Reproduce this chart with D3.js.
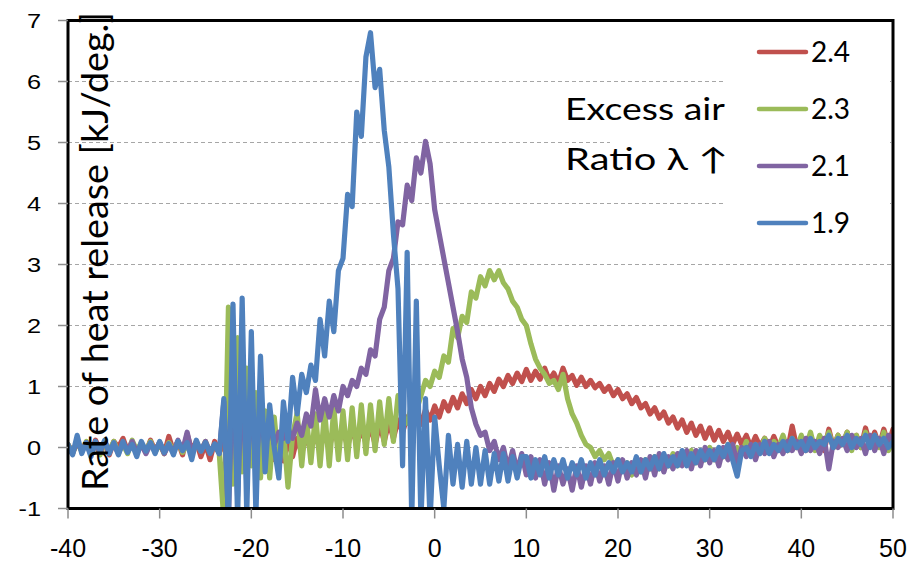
<!DOCTYPE html>
<html>
<head>
<meta charset="utf-8">
<script src="https://cdn.jsdelivr.net/npm/d3@7"></script>
<style>
  html, body { margin: 0; padding: 0; background: #fff; }
  svg { display: block; }
</style>
</head>
<body>
<svg id="chart" width="916" height="562"></svg>
<script>
// ---- data ----
const angleStart = -40, angleEnd = 50, angleStep = 0.5;
const xTicks = [-40, -30, -20, -10, 0, 10, 20, 30, 40, 50];
const yTicks = [-1, 0, 1, 2, 3, 4, 5, 6, 7];
const seriesNames = ["2.4", "2.3", "2.1", "1.9"];
const seriesColors = ["#C0504D", "#9BBB59", "#8064A2", "#4F81BD"];

const red24 = [
  0.05,-0.08,0.1,-0.05,0.08,-0.1,0.12,-0.04,0.06,-0.12,0.1,0.0,0.15,-0.06,0.08,-0.1,0.05,-0.08,0.12,-0.05,
  0.08,-0.1,0.18,-0.06,0.1,-0.12,0.22,-0.05,0.1,-0.15,0.06,-0.2,0.1,-0.08,0.05,-0.15,0.1,-0.2,0.15,-0.1,
  0.05,-0.15,0.1,-0.2,0.15,-0.2,0.1,-0.22,0.12,-0.15,0.15,-0.1,0.2,-0.05,0.25,-0.05,0.3,0.0,0.3,0.05,
  0.3,0.02,0.32,0.05,0.3,0.08,0.35,0.05,0.38,0.1,0.42,0.15,0.45,0.25,0.5,0.3,0.55,0.38,0.62,0.45,
  0.68,0.5,0.75,0.6,0.82,0.65,0.88,0.72,0.95,0.8,1.0,0.85,1.05,0.92,1.12,1.0,1.18,1.05,1.22,1.08,
  1.28,1.1,1.25,1.12,1.3,1.1,1.22,1.05,1.3,1.1,1.18,1.02,1.15,1.0,1.1,0.98,1.05,0.92,1.0,0.85,
  0.95,0.8,0.88,0.72,0.82,0.65,0.72,0.55,0.65,0.48,0.58,0.4,0.5,0.32,0.45,0.25,0.4,0.2,0.35,0.15,
  0.32,0.12,0.28,0.1,0.25,0.05,0.22,0.05,0.2,0.0,0.18,0.02,0.15,-0.02,0.18,0.0,0.12,-0.05,0.35,0.0,
  0.15,-0.05,0.2,0.0,0.15,-0.05,0.3,0.0,0.2,0.05,0.25,-0.02,0.2,0.0,0.32,0.05,0.25,0.02,0.3,0.05,
  0.3
];
const green23 = [
  0.05,-0.1,0.08,-0.06,0.1,-0.05,0.06,-0.12,0.08,-0.04,0.1,-0.08,0.05,-0.1,0.12,-0.05,0.08,-0.06,0.1,-0.08,
  0.06,-0.1,0.08,-0.05,0.1,-0.08,0.05,-0.1,0.08,-0.06,0.1,-0.08,0.05,-0.1,-1.2,2.3,-0.6,1.8,-0.4,1.3,
  -0.3,0.9,-0.5,0.6,-0.5,0.5,-0.3,0.3,-0.65,0.2,0.57,-0.3,0.5,-0.25,0.55,-0.3,0.6,-0.3,0.65,-0.2,
  0.6,-0.2,0.65,-0.15,0.7,-0.1,0.7,-0.05,0.75,0.05,0.8,0.1,0.85,0.5,0.4,0.7,0.6,0.85,1.1,1.0,
  1.25,1.15,1.5,1.4,1.95,1.8,2.15,2.05,2.55,2.45,2.8,2.65,2.9,2.75,2.9,2.7,2.6,2.4,2.3,2.1,
  2.0,1.7,1.45,1.3,1.2,1.05,1.1,0.95,1.2,0.8,0.55,0.4,0.2,0.05,0.0,-0.15,-0.05,-0.2,-0.1,-0.3,
  -0.2,-0.35,-0.25,-0.45,-0.25,-0.4,-0.2,-0.35,-0.15,-0.35,-0.2,-0.3,-0.1,-0.3,-0.15,-0.25,-0.05,-0.25,-0.1,-0.2,
  0.0,-0.2,-0.05,-0.15,0.05,-0.15,0.0,-0.1,0.1,-0.1,0.05,-0.05,0.15,-0.05,0.1,0.0,0.2,-0.05,0.15,0.0,
  0.2,0.0,0.25,-0.05,0.2,0.05,0.25,0.0,0.2,0.05,0.25,-0.05,0.2,0.0,0.25,0.05,0.2,0.0,0.25,-0.05,
  0.1
];
const purple21 = [
  0.0,-0.1,0.1,-0.05,0.08,-0.12,0.06,-0.08,0.1,-0.05,0.05,-0.1,0.08,-0.06,0.1,-0.08,0.05,-0.1,0.06,-0.05,
  0.08,-0.1,0.05,-0.08,0.12,-0.05,0.25,-0.1,0.08,-0.06,0.1,-0.08,0.05,-0.1,0.75,-1.2,1.5,-0.8,1.2,-0.6,
  0.9,-0.3,0.6,0.0,0.4,0.05,0.25,0.15,0.3,0.15,0.4,0.2,0.55,0.35,0.95,0.45,0.8,0.5,0.85,0.6,
  1.0,0.85,1.1,1.0,1.3,1.2,1.6,1.5,2.1,2.3,2.9,3.1,3.7,3.65,4.3,4.05,4.75,4.5,5.02,4.65,
  3.9,3.5,3.1,2.7,2.3,1.9,1.45,1.15,0.65,0.38,0.2,0.25,-0.05,0.1,-0.2,0.0,-0.35,-0.05,-0.4,-0.1,
  -0.45,-0.15,-0.5,-0.2,-0.6,-0.25,-0.7,-0.3,-0.6,-0.35,-0.7,-0.3,-0.65,-0.3,-0.6,-0.25,-0.55,-0.3,-0.6,-0.25,
  -0.55,-0.2,-0.5,-0.25,-0.45,-0.2,-0.5,-0.15,-0.45,-0.1,-0.4,-0.15,-0.35,-0.1,-0.3,-0.05,-0.35,-0.05,-0.3,0.0,
  -0.25,-0.05,-0.3,0.0,-0.2,0.05,-0.25,0.0,-0.15,0.05,-0.2,0.05,-0.1,0.1,-0.15,0.05,-0.1,0.1,-0.05,0.1,
  -0.1,0.15,-0.05,0.1,-0.1,0.15,-0.35,0.1,0.0,0.15,-0.05,0.2,0.0,0.15,-0.1,0.2,-0.05,0.15,-0.1,0.2,
  0.15
];
const blue19 = [
  0.05,-0.12,0.2,-0.1,0.08,-0.15,0.1,-0.05,0.12,-0.1,0.08,-0.12,0.1,-0.08,0.05,-0.15,0.1,-0.06,0.08,-0.1,
  0.1,-0.08,0.06,-0.12,0.1,-0.05,0.08,-0.2,0.12,-0.06,0.08,-0.1,0.06,-0.1,0.8,-1.2,2.35,-1.2,2.45,-1.1,
  1.9,-1.1,1.5,-0.4,0.7,0.0,-0.5,0.75,0.1,1.15,0.55,1.2,0.9,1.35,1.1,2.1,1.5,2.4,1.9,2.9,
  3.1,4.15,3.95,5.5,5.1,6.4,6.8,5.9,6.2,5.2,4.6,3.5,2.6,-0.3,3.2,-1.2,2.4,-1.2,0.8,-1.2,
  0.5,-0.3,-1.0,0.2,-0.6,0.05,-0.65,0.1,-0.6,0.0,-0.6,-0.05,-0.6,-0.1,-0.55,-0.1,-0.55,-0.15,-0.5,-0.15,
  -0.15,-0.5,-0.2,-0.45,-0.15,-0.5,-0.2,-0.45,-0.2,-0.5,-0.25,-0.45,-0.2,-0.5,-0.25,-0.45,-0.2,-0.45,-0.25,-0.4,
  -0.2,-0.4,-0.25,-0.4,-0.15,-0.4,-0.2,-0.35,-0.15,-0.35,-0.1,-0.3,-0.15,-0.3,-0.05,-0.3,-0.1,-0.25,-0.05,-0.2,
  -0.05,-0.2,0.0,-0.15,0.05,-0.2,-0.47,-0.05,0.0,-0.15,0.05,-0.1,0.1,-0.1,0.05,-0.05,0.1,-0.05,0.15,0.0,
  0.1,-0.05,0.15,0.0,0.1,0.05,0.2,0.0,0.15,0.05,0.2,0.0,0.15,0.05,0.2,0.0,0.2,0.05,0.15,0.0,
  0.1
];
const seriesValues = [red24, green23, purple21, blue19];
const yTitle = "Rate of heat release [kJ/deg.]";
const noteLines = ["Excess air", "Ratio λ ↑"];

// ---- layout ----
const svg = d3.select("#chart");
const L = 68, R = 893, T = 20.5, B = 508.5;
const x = d3.scaleLinear().domain([-40, 50]).range([L, R]);
const y = d3.scaleLinear().domain([-1, 7]).range([B, T]);
const angles = d3.range(angleStart, angleEnd + angleStep / 2, angleStep);

// gridlines
svg.append("g").selectAll("line").data(yTicks.filter(v => v >= 0 && v <= 6)).join("line")
  .attr("x1", L).attr("x2", R).attr("y1", d => y(d)).attr("y2", d => y(d))
  .attr("stroke", "#a6a6a6").attr("stroke-width", 1).attr("stroke-dasharray", "4,3");

// white boxes of legend and annotation covering gridlines
svg.append("rect").attr("x", 723).attr("y", 30).attr("width", 167).attr("height", 210).attr("fill", "#fff");
svg.append("rect").attr("x", 610).attr("y", 136).attr("width", 113).attr("height", 12).attr("fill", "#fff");

// clip
svg.append("defs").append("clipPath").attr("id", "plotclip")
  .append("rect").attr("x", L).attr("y", T).attr("width", R - L).attr("height", B - T);

const line = d3.line().x((d, i) => x(angles[i])).y(d => y(d));
const gLines = svg.append("g").attr("clip-path", "url(#plotclip)");
seriesValues.forEach((vals, k) => {
  gLines.append("path").datum(vals)
    .attr("d", line)
    .attr("fill", "none")
    .attr("stroke", seriesColors[k])
    .attr("stroke-width", 5.2)
    .attr("stroke-linejoin", "round")
    .attr("stroke-linecap", "round");
});

// frame
svg.append("rect").attr("x", L).attr("y", T).attr("width", R - L).attr("height", B - T)
  .attr("fill", "none").attr("stroke", "#000").attr("stroke-width", 3);

// y ticks
svg.append("g").selectAll("line").data(yTicks).join("line")
  .attr("x1", L - 10).attr("x2", L).attr("y1", d => y(d)).attr("y2", d => y(d))
  .attr("stroke", "#8c8c8c").attr("stroke-width", 1.5);
svg.append("g").selectAll("text").data(yTicks).join("text")
  .attr("transform", d => `translate(41,${y(d) + 7}) scale(1.3,1)`)
  .attr("text-anchor", "end")
  .attr("font-family", "'Liberation Sans', Arial, sans-serif")
  .attr("font-size", 19.5)
  .attr("fill", "#000")
  .text(d => d);

// x ticks
svg.append("g").selectAll("line").data(xTicks).join("line")
  .attr("x1", d => x(d)).attr("x2", d => x(d)).attr("y1", B).attr("y2", B + 10)
  .attr("stroke", "#8c8c8c").attr("stroke-width", 1.5);
svg.append("g").selectAll("text").data(xTicks).join("text")
  .attr("x", d => x(d)).attr("y", 557)
  .attr("text-anchor", "middle")
  .attr("font-family", "'Liberation Sans', Arial, sans-serif")
  .attr("font-size", 25)
  .attr("fill", "#000")
  .text(d => d);

// legend
const legY = [52, 109, 166, 223];
const leg = svg.append("g").selectAll("g").data(seriesNames).join("g");
leg.append("line")
  .attr("x1", 759).attr("x2", 806).attr("y1", (d, i) => legY[i]).attr("y2", (d, i) => legY[i])
  .attr("stroke", (d, i) => seriesColors[i]).attr("stroke-width", 4.5).attr("stroke-linecap", "round");
leg.append("text")
  .attr("x", 811).attr("y", (d, i) => legY[i] + 10)
  .attr("font-family", "Lato, 'Open Sans', sans-serif")
  .attr("font-size", 28)
  .attr("fill", "#000")
  .text(d => d);

// annotation
svg.append("text").attr("x", 565).attr("y", 120)
  .attr("font-family", "Lato, 'Open Sans', sans-serif").attr("font-size", 30)
  .attr("textLength", 160).attr("lengthAdjust", "spacingAndGlyphs")
  .attr("fill", "#000").text(noteLines[0]);
svg.append("text").attr("x", 565).attr("y", 170)
  .attr("font-family", "Lato, 'DejaVu Sans', sans-serif").attr("font-size", 30)
  .attr("textLength", 163).attr("lengthAdjust", "spacingAndGlyphs")
  .attr("fill", "#000").text(noteLines[1]);

// y title (inside plot)
svg.append("text")
  .attr("transform", "translate(108,491) rotate(-90)")
  .attr("font-family", "Lato, 'Open Sans', sans-serif")
  .attr("font-size", 36)
  .attr("textLength", 479).attr("lengthAdjust", "spacingAndGlyphs")
  .attr("fill", "#000")
  .text(yTitle);
</script>
</body>
</html>
